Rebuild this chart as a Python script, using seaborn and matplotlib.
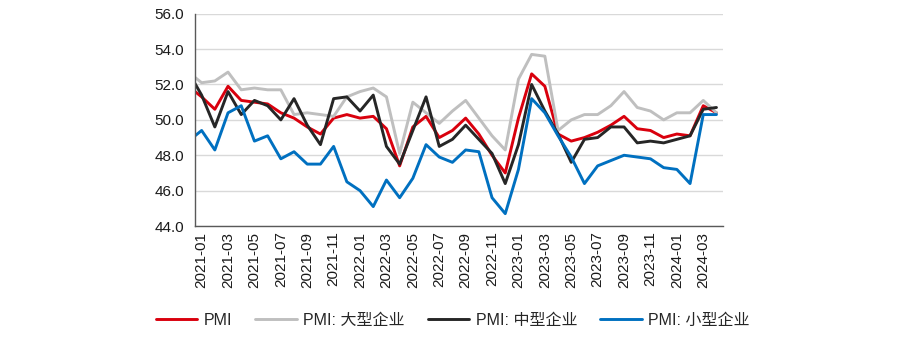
import numpy as np
import pandas as pd
import matplotlib
matplotlib.use("Agg")
import matplotlib.pyplot as plt
from matplotlib.ticker import FormatStrFormatter
import seaborn as sns

# Monthly manufacturing PMI, overall and by enterprise size (2020-12 .. 2024-04)
months = pd.period_range("2020-12", "2024-04", freq="M").strftime("%Y-%m").tolist()

pmi = [51.9,
       51.3, 50.6, 51.9, 51.1, 51.0, 50.9, 50.4, 50.1, 49.6, 49.2, 50.1, 50.3,
       50.1, 50.2, 49.5, 47.4, 49.6, 50.2, 49.0, 49.4, 50.1, 49.2, 48.0, 47.0,
       50.1, 52.6, 51.9, 49.2, 48.8, 49.0, 49.3, 49.7, 50.2, 49.5, 49.4, 49.0,
       49.2, 49.1, 50.8, 50.4]
large = [52.7,
         52.1, 52.2, 52.7, 51.7, 51.8, 51.7, 51.7, 50.3, 50.4, 50.3, 50.2, 51.3,
         51.6, 51.8, 51.3, 48.1, 51.0, 50.4, 49.8, 50.5, 51.1, 50.1, 49.1, 48.3,
         52.3, 53.7, 53.6, 49.4, 50.0, 50.3, 50.3, 50.8, 51.6, 50.7, 50.5, 50.0,
         50.4, 50.4, 51.1, 50.4]
medium = [52.7,
          51.4, 49.6, 51.6, 50.3, 51.1, 50.8, 50.0, 51.2, 49.7, 48.6, 51.2, 51.3,
          50.5, 51.4, 48.5, 47.5, 49.4, 51.3, 48.5, 48.9, 49.7, 48.9, 48.1, 46.4,
          48.6, 52.0, 50.5, 49.2, 47.6, 48.9, 49.0, 49.6, 49.6, 48.7, 48.8, 48.7,
          48.9, 49.1, 50.6, 50.7]
small = [48.8,
         49.4, 48.3, 50.4, 50.8, 48.8, 49.1, 47.8, 48.2, 47.5, 47.5, 48.5, 46.5,
         46.0, 45.1, 46.6, 45.6, 46.7, 48.6, 47.9, 47.6, 48.3, 48.2, 45.6, 44.7,
         47.2, 51.2, 50.4, 49.1, 47.9, 46.4, 47.4, 47.7, 48.0, 47.9, 47.8, 47.3,
         47.2, 46.4, 50.3, 50.3]

series_names = ["PMI", "PMI: 大型企业", "PMI: 中型企业", "PMI: 小型企业"]
series_values = [pmi, large, medium, small]
colors = ["#D9000D", "#BFBFBF", "#262626", "#0070C0"]

# category positions: 2021-01 sits at 0, the preceding month is clipped by the axes
pos = np.arange(len(months)) - 1
long = pd.concat(
    [pd.DataFrame({"pos": pos, "month": months, "value": vals, "series": name})
     for name, vals in zip(series_names, series_values)],
    ignore_index=True,
)

sns.set_theme(style="white")
plt.rcParams["font.family"] = ["Liberation Sans", "Noto Sans CJK SC"]

fig = plt.figure(figsize=(9, 3.43), dpi=100)
ax = fig.add_axes([0.2167, 0.341, 0.5867, 0.619])

sns.lineplot(data=long, x="pos", y="value", hue="series", hue_order=series_names,
             palette=colors, linewidth=2.1, ax=ax)

ax.set_xlim(-0.5, 39.5)
ax.set_ylim(44, 56)
ax.set_xlabel("")
ax.set_ylabel("")

# y axis
ax.set_yticks(np.arange(44, 56.1, 2))
ax.yaxis.set_major_formatter(FormatStrFormatter("%.1f"))
ax.yaxis.grid(True, color="#D9D9D9", linewidth=1.0)
ax.set_axisbelow(True)

# x axis: tick marks between category pairs, labels on every other month
ax.set_xticks(np.arange(-0.5, 40, 2))
ax.set_xticklabels([])
label_pos = np.arange(0, 40, 2)
ax.set_xticks(label_pos, minor=True)
ax.set_xticklabels(months[1::2], minor=True, rotation=90)
ax.tick_params(axis="x", which="minor", length=0, pad=4, labelsize=11, colors="#1a1a1a")
ax.tick_params(axis="x", which="major", length=5, width=1, color="#595959", direction="out")
ax.tick_params(axis="y", length=5, width=1, color="#595959", direction="out",
               labelsize=11, labelcolor="#1a1a1a", pad=3)

for side in ("top", "right"):
    ax.spines[side].set_visible(False)
for side in ("left", "bottom"):
    ax.spines[side].set_color("#595959")
    ax.spines[side].set_linewidth(1.0)

handles, labels = ax.get_legend_handles_labels()
ax.get_legend().remove()
fig.legend(handles, labels, loc="center", bbox_to_anchor=(0.503, 0.067), ncol=4,
           frameon=False, fontsize=11.5, handlelength=2.6, handletextpad=0.4,
           columnspacing=1.45)

fig.savefig("out.png", dpi=100)
